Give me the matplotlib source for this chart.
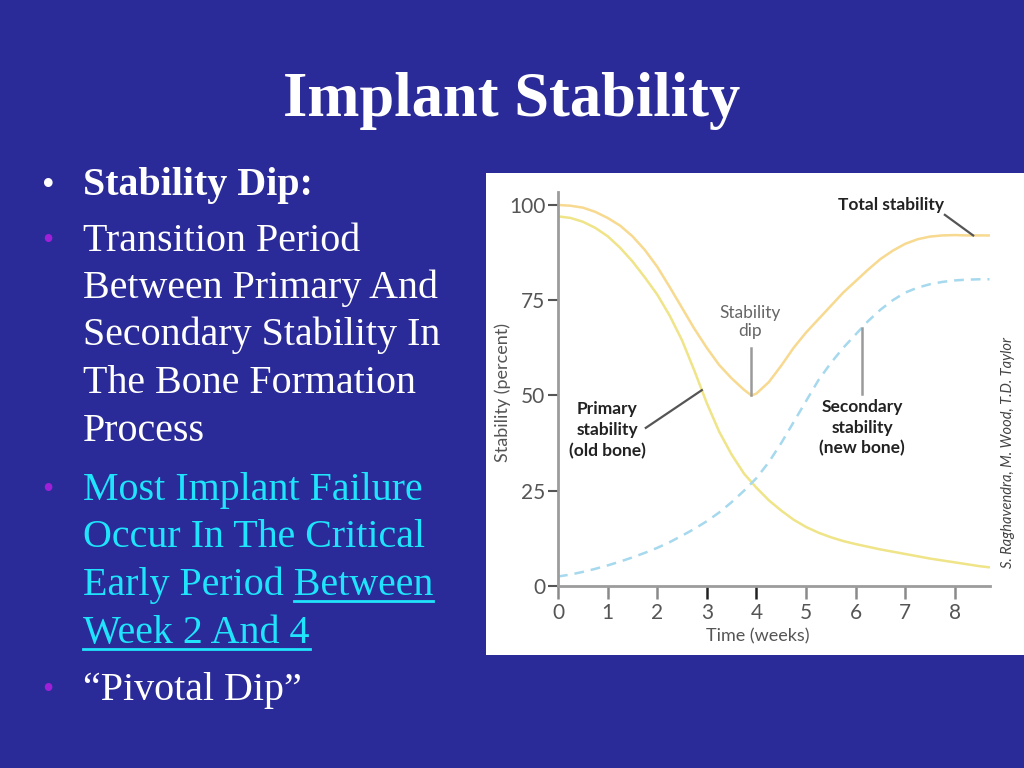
import numpy as np
import matplotlib
matplotlib.use("Agg")
import matplotlib.pyplot as plt
from matplotlib.patches import Rectangle
from matplotlib.lines import Line2D

plt.rcParams.update({"lines.scale_dashes": False})

# --- data --------------------------------------------------------------------
weeks = [0, 0.25, 0.5, 0.75, 1.0, 1.25, 1.5, 1.75, 2.0, 2.25, 2.5, 2.75, 3.0,
         3.25, 3.5, 3.75, 4.0, 4.25, 4.5, 4.75, 5.0, 5.25, 5.5, 5.75, 6.0,
         6.25, 6.5, 6.75, 7.0, 7.25, 7.5, 7.75, 8.0, 8.25, 8.5, 8.7]
primary = [97.0, 96.6, 95.6, 94.0, 91.8, 88.8, 85.2, 81.0, 76.5, 71.0, 64.5,
           56.5, 48.0, 40.5, 34.5, 29.5, 25.8, 22.5, 19.8, 17.4, 15.5, 14.0,
           12.8, 11.8, 11.0, 10.3, 9.6, 9.0, 8.4, 7.8, 7.2, 6.7, 6.2, 5.7,
           5.2, 4.9]
secondary = [2.5, 3.0, 3.7, 4.5, 5.4, 6.4, 7.5, 8.7, 10.0, 11.5, 13.2, 15.0,
             17.0, 19.3, 22.0, 25.0, 28.3, 32.5, 37.5, 43.0, 48.5, 54.0, 58.5,
             62.5, 66.0, 69.5, 72.5, 75.0, 77.0, 78.3, 79.2, 79.8, 80.2, 80.4,
             80.5, 80.5]
total_weeks = [0, 0.25, 0.5, 0.75, 1.0, 1.25, 1.5, 1.75, 2.0, 2.25, 2.5, 2.75,
               3.0, 3.25, 3.5, 3.75, 3.9, 4.0, 4.25, 4.5, 4.75, 5.0, 5.25,
               5.5, 5.75, 6.0, 6.25, 6.5, 6.75, 7.0, 7.25, 7.5, 7.75, 8.0,
               8.25, 8.5, 8.7]
total = [100.0, 99.8, 99.3, 98.2, 96.6, 94.6, 91.8, 88.2, 83.8, 78.5, 73.0,
         67.5, 62.5, 58.0, 54.5, 51.5, 50.0, 50.5, 53.5, 57.8, 62.5, 66.5,
         70.0, 73.5, 77.0, 80.0, 83.0, 85.8, 88.0, 89.8, 91.0, 91.7, 92.0,
         92.1, 92.0, 92.0, 92.0]
x_ticks = [0, 1, 2, 3, 4, 5, 6, 7, 8]
y_ticks = [0, 25, 50, 75, 100]

BG = "#2a2a98"
CYAN = "#1fe4fb"
PURPLE = "#a020d8"
GREY = "#555555"
CHART_FONT = ["Lato", "DejaVu Sans"]
SERIF = ["Liberation Serif", "DejaVu Serif"]

fig = plt.figure(figsize=(10.24, 7.68), dpi=100)
fig.patch.set_facecolor(BG)


def fx(px):
    return px / 1024


def fy(py):
    return 1 - py / 768


# white panel holding the chart
fig.add_artist(Rectangle((fx(486), fy(655)), fx(1024 - 486), (655 - 173) / 768,
                         transform=fig.transFigure, facecolor="white",
                         edgecolor="none", zorder=-1))

# --- slide text --------------------------------------------------------------
fig.text(fx(512), fy(116), "Implant Stability", ha="center", va="baseline",
         fontsize=45, fontweight="bold", color="white", family=SERIF)

lines = [
    ("Stability Dip:", 195, "white", "bold", "w"),
    ("Transition Period", 251, "white", "normal", "p"),
    ("Between Primary And", 298, "white", "normal", None),
    ("Secondary Stability In", 345, "white", "normal", None),
    ("The Bone Formation", 393, "white", "normal", None),
    ("Process", 441, "white", "normal", None),
    ("Most Implant Failure", 500, CYAN, "normal", "p"),
    ("Occur In The Critical", 547, CYAN, "normal", None),
    ("Early Period Between", 595, CYAN, "normal", None),
    ("Week 2 And 4", 643, CYAN, "normal", None),
    ("\u201cPivotal Dip\u201d", 700, "white", "normal", "p"),
]
texts = {}
for s, base, col, wt, bullet in lines:
    texts[s] = fig.text(fx(83), fy(base), s, ha="left", va="baseline",
                        fontsize=28.8, fontweight=wt, color=col, family=SERIF)
    if bullet == "w":
        fig.text(fx(48), fy(base), "\u2022", ha="center", va="baseline",
                 fontsize=26, color="white", family=SERIF)
    elif bullet == "p":
        fig.text(fx(48), fy(base - 2), "\u2022", ha="center", va="baseline",
                 fontsize=23, color=PURPLE, family=SERIF)

# underlines under "Between" and "Week 2 And 4"
r = fig.canvas.get_renderer()
probe = fig.text(0, 0, "Between", fontsize=28.8, family=SERIF)
w_between = probe.get_window_extent(r).width
probe.remove()
bb = texts["Early Period Between"].get_window_extent(r)
fig.add_artist(Line2D([fx(bb.x1 - w_between), fx(bb.x1)], [fy(601), fy(601)],
                      transform=fig.transFigure, color=CYAN, lw=2))
bb = texts["Week 2 And 4"].get_window_extent(r)
fig.add_artist(Line2D([fx(bb.x0), fx(bb.x1)], [fy(649), fy(649)],
                      transform=fig.transFigure, color=CYAN, lw=2))

# --- chart -------------------------------------------------------------------
ax = fig.add_axes([fx(558), fy(586), fx(990 - 558), (586 - 192) / 768])
ax.set_facecolor("white")
ax.plot(total_weeks, total, color="#f7d990", lw=1.8, solid_capstyle="round")
ax.plot(weeks, primary, color="#efe488", lw=1.8, solid_capstyle="round")
ax.plot(weeks, secondary, color="#a6d9ee", lw=1.8, dashes=(7, 5))

ax.set_xlim(0, 8.71)
ax.set_ylim(0, 103.4)
for side in ("top", "right"):
    ax.spines[side].set_visible(False)
for side in ("left", "bottom"):
    ax.spines[side].set_color("#9c9c9c")
    ax.spines[side].set_linewidth(2.0)
ax.set_xticks(x_ticks)
ax.set_yticks(y_ticks)
ax.set_xticklabels([str(v) for v in x_ticks], family=CHART_FONT)
ax.set_yticklabels([str(v) for v in y_ticks], family=CHART_FONT)
ax.tick_params(axis="y", direction="out", length=7, width=1.5, color="#555555",
               pad=2, labelsize=15, labelcolor=GREY)
ax.tick_params(axis="x", direction="out", length=9, width=1.8, color="#8a8a8a",
               pad=3, labelsize=15, labelcolor=GREY)
for i in (3, 4):
    ax.xaxis.get_major_ticks()[i].tick1line.set_markeredgecolor("#222222")

ax.set_xlabel("Time (weeks)", family=CHART_FONT, fontsize=13, color=GREY)
ax.xaxis.set_label_coords(0.463, -0.127)
ax.xaxis.label.set_va("center")
ax.set_ylabel("Stability (percent)", family=CHART_FONT, fontsize=13, color=GREY)
ax.yaxis.set_label_coords(-0.127, 0.49)
ax.yaxis.label.set_va("center")

# annotations and leader lines
bold = dict(family=CHART_FONT, fontsize=12.5, fontweight="bold",
            color="#222222", ha="center", va="center", linespacing=1.35)
ax.text(6.71, 100.0, "Total stability", **bold)
ax.plot([7.80, 8.37], [97.4, np.interp(8.37, total_weeks, total)],
        color="#555555", lw=1.6)

dip_x = total_weeks[int(np.argmin(total))]
ax.text(3.87, 69.3, "Stability\ndip", family=CHART_FONT, fontsize=12.5,
        color="#666666", ha="center", va="center", linespacing=1.1)
ax.plot([dip_x, dip_x], [62.5, min(total)], color="#9a9a9a", lw=1.8)

ax.text(6.13, 41.5, "Secondary\nstability\n(new bone)", **bold)
ax.plot([6.13, 6.13], [50.5, np.interp(6.13, weeks, secondary)],
        color="#9a9a9a", lw=1.8)

ax.text(0.99, 40.9, "Primary\nstability\n(old bone)", **bold)
ax.plot([1.77, 2.9], [41.5, np.interp(2.9, weeks, primary)],
        color="#555555", lw=1.6)

fig.text(fx(1008), fy(452), "S. Raghavendra, M. Wood, T.D. Taylor",
         rotation=90, ha="center", va="center", family=CHART_FONT,
         fontsize=10.5, style="italic", color="#444444")

fig.savefig("out.png", dpi=100, facecolor=BG)
